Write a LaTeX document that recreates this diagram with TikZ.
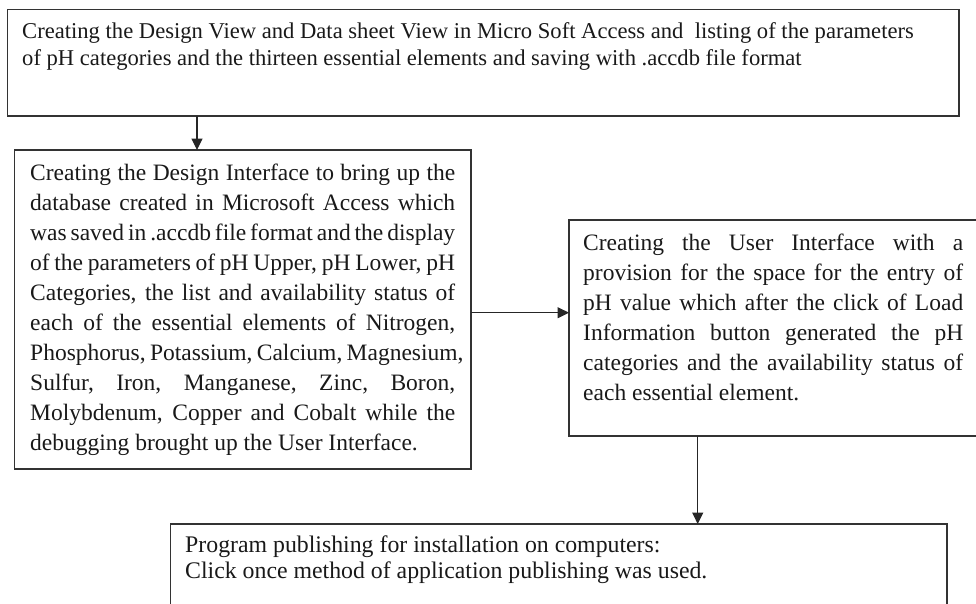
\documentclass[tikz,border=0pt]{standalone}
\usepackage{fontspec}
\setmainfont{Liberation Serif}
\usetikzlibrary{arrows.meta}
\begin{document}
\begin{tikzpicture}[x=1pt,y=-1pt,
  box/.style={draw=black!80,line width=1.2pt,anchor=north west,inner sep=0pt,outer sep=0pt},
  toptext/.style={anchor=north west,inner sep=0pt,align=left,text=black!90,font=\fontsize{22.6}{27}\selectfont},
  bottext/.style={anchor=north west,inner sep=0pt,align=left,text=black!90,font=\fontsize{23.8}{26.5}\selectfont},
  bigtext/.style={anchor=north west,inner sep=0pt,align=left,text=black!90,font=\fontsize{23.5}{30}\selectfont},
  arr/.style={draw=black!85,line width=1.2pt,-{Triangle[length=11.5pt,width=11pt]}}]
\useasboundingbox (0,0) rectangle (976,603);
\clip (0,0) rectangle (976,603);
% boxes
\node[box,minimum width=951.5pt,minimum height=106.5pt] (b1) at (7.5,9.5) {};
\node[box,minimum width=456.3pt,minimum height=319pt] (b2) at (14.7,150) {};
\node[box,minimum width=430pt,minimum height=216pt] (b3) at (569,220) {};
\node[box,minimum width=776.3pt,minimum height=110pt] (b4) at (170.7,524) {};
% texts
\node[toptext] (t1) at (22,19.1) {\strut Creating the Design View and Data sheet View in Micro Soft Access and\ \ listing of the parameters\\
of pH categories and the thirteen essential elements and saving with .accdb file format};
\node[bigtext] (t2) at (30,159) {%
\makebox[425pt][s]{\strut Creating the Design Interface to bring up the}\\
\makebox[425pt][s]{database created in Microsoft Access which}\\
\makebox[425pt][s]{was saved in .accdb file format and the display}\\
\makebox[425pt][s]{of the parameters of pH Upper, pH Lower, pH}\\
\makebox[425pt][s]{Categories, the list and availability status of}\\
\makebox[425pt][s]{each of the essential elements of Nitrogen,}\\
\makebox[425pt][s]{Phosphorus, Potassium, Calcium, Magnesium,}\\
\makebox[425pt][s]{Sulfur, Iron, Manganese, Zinc, Boron,}\\
\makebox[425pt][s]{Molybdenum, Copper and Cobalt while the}\\
debugging brought up the User Interface.};
\node[bigtext] (t3) at (583,229) {%
\makebox[380pt][s]{\strut Creating the User Interface with a}\\
\makebox[380pt][s]{provision for the space for the entry of}\\
\makebox[380pt][s]{pH value which after the click of Load}\\
\makebox[380pt][s]{Information button generated the pH}\\
\makebox[380pt][s]{categories and the availability status of}\\
each essential element.};
\node[bottext] (t4) at (185,533.4) {\strut Program publishing for installation on computers:\\
Click once method of application publishing was used.};
% connectors
\coordinate (a1) at (197,0);
\coordinate (a2) at (0,312.7);
\coordinate (a3) at (697.7,0);
\draw[arr] (b1.south -| a1) -- (b2.north -| a1);
\draw[arr] (b2.east |- a2) -- (b3.west |- a2);
\draw[arr] (b3.south -| a3) -- (b4.north -| a3);
\end{tikzpicture}
\end{document}
